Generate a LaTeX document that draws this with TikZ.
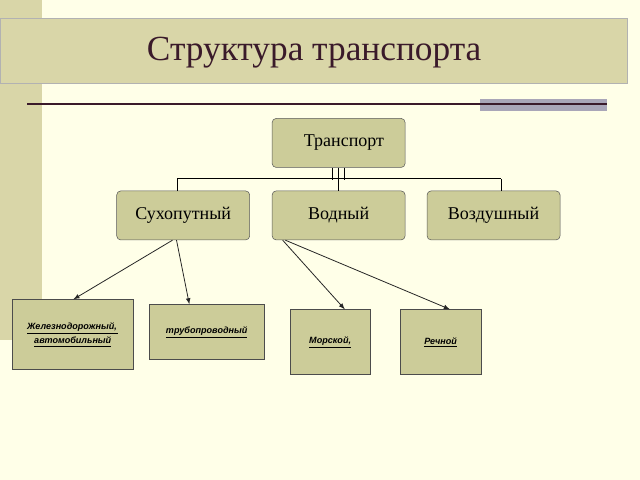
\documentclass[tikz,border=0pt]{standalone}
\usepackage{fontspec}
\setmainfont{Liberation Serif}
\newfontfamily\lsans{Liberation Sans}
\definecolor{bg}{HTML}{FFFFE8}
\definecolor{band}{HTML}{D9D6A8}
\definecolor{boxf}{HTML}{CCCC99}
\definecolor{tit}{HTML}{3A1A2A}
\definecolor{gbar}{HTML}{A9A6B8}
\begin{document}
\begin{tikzpicture}[x=0.75pt,y=-0.75pt,
 top/.style={draw=gray!70!black,fill=boxf,rounded corners=3pt,minimum width=99.75pt,minimum height=36.75pt,font=\fontsize{13.5}{15}\selectfont,inner sep=0pt},
 low/.style={draw=black!70,fill=boxf,thick,inner sep=0pt,font=\lsans\fontsize{6.8}{8}\selectfont\bfseries\itshape,align=center},
 arr/.style={-latex,black!85,semithick}]
\fill[bg] (0,0) rectangle (640,480);
\fill[band] (0,0) rectangle (42,340);
\fill[band,draw=gray!60] (0,18) rectangle (627,83);
\node[text=tit,font=\fontsize{26.5}{30}\selectfont] (title) at (314,53) {Структура транспорта};
\fill[gbar] (480,99) rectangle (607,111);
\draw[tit,line width=1.2pt] (27,104) -- (607,104);
\node[top] (t) at (338.5,143) {\hspace{8pt}Транспорт};
\node[top] (s) at (183,215.5) {Сухопутный};
\node[top] (v) at (338.5,215.5) {Водный};
\node[top] (a) at (493.5,215.5) {Воздушный};
\coordinate (b1) at (177,179); \coordinate (b2) at (501,179);
\draw[thick] (b1) -- (b2);
\draw[thick] (b1) -- (b1 |- s.north);
\draw[thick] (b2) -- (b2 |- a.north);
\draw[thick] (t.south) -- (v.north);
\draw[thick] ([xshift=-4.5pt]t.south) -- +(0,12);
\draw[thick] ([xshift=4.5pt]t.south) -- +(0,12);
\node[low,minimum width=90.75pt,minimum height=52.5pt] (z) at (72.5,335) {\underline{Железнодорожный,\,}\\[1pt]\underline{автомобильный}};
\node[low,minimum width=86.25pt,minimum height=41.25pt] (tr) at (206.5,332.5) {\underline{трубопроводный}};
\node[low,minimum width=60pt,minimum height=48.75pt] (m) at (330,342.5) {\underline{Морской,}};
\node[low,minimum width=60.75pt,minimum height=48.75pt] (r) at (440.5,342.5) {\underline{Речной}};
\draw[arr] ([xshift=-8pt]s.south) -- ([xshift=0.5pt]z.north);
\draw[arr] ([xshift=-5pt]s.south) -- ([xshift=-13pt]tr.north);
\draw[arr] ([xshift=-42pt]v.south) -- ([xshift=11pt]m.north);
\draw[arr] ([xshift=-40pt]v.south) -- ([xshift=7pt]r.north);
\end{tikzpicture}
\end{document}
